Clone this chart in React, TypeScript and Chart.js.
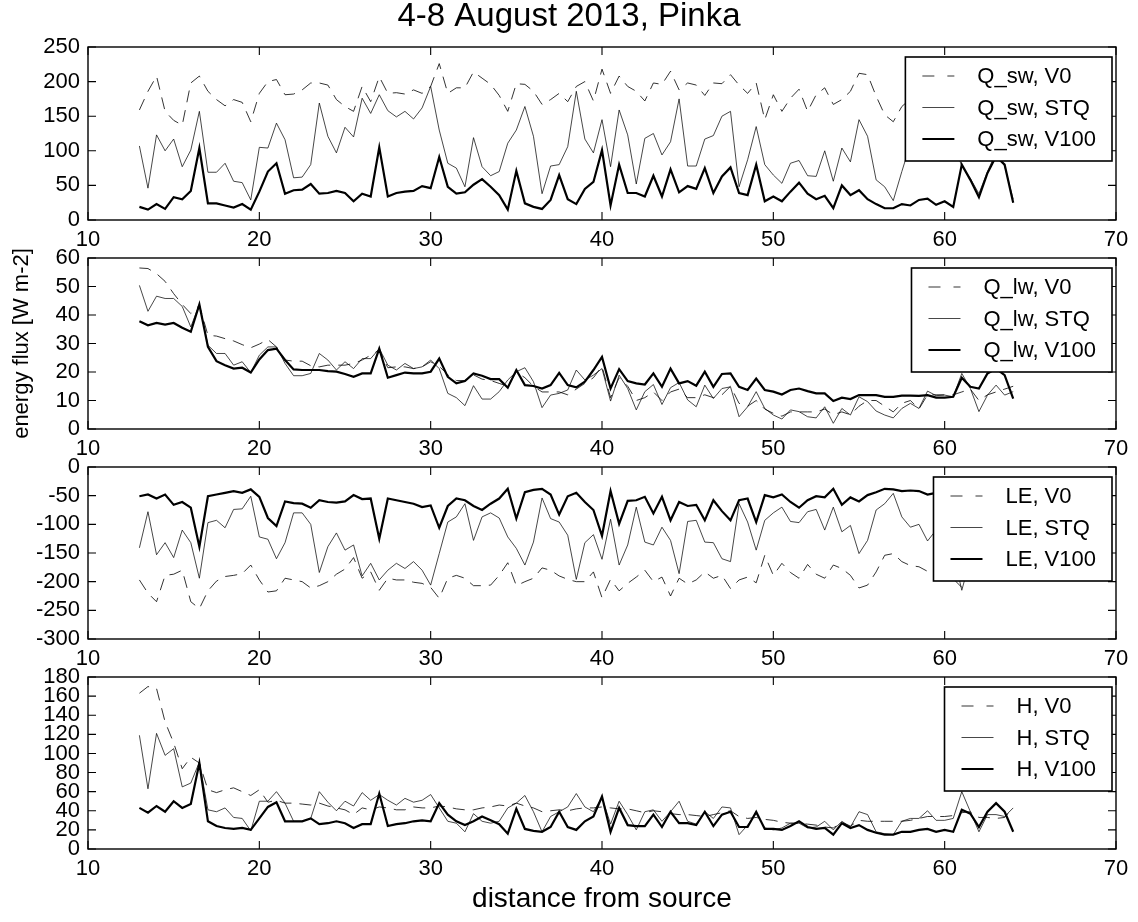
import React, { useEffect, useRef } from "react";
import { Chart, registerables } from "chart.js";

Chart.register(...registerables);

// ---------------- data ----------------
const distance = [
  13, 13.5, 14, 14.5, 15, 15.5, 16, 16.5, 17, 17.5, 18, 18.5, 19, 19.5, 20, 20.5, 21, 21.5, 22, 22.5,
  23, 23.5, 24, 24.5, 25, 25.5, 26, 26.5, 27, 27.5, 28, 28.5, 29, 29.5, 30,
  30.5, 31, 31.5, 32, 32.5, 33, 33.5, 34, 34.5, 35, 35.5, 36, 36.5, 37, 37.5, 38, 38.5, 39, 39.5, 40,
  40.5, 41, 41.5, 42, 42.5, 43, 43.5, 44, 44.5, 45, 45.5, 46, 46.5, 47,
  47.5, 48, 48.5, 49, 49.5, 50, 50.5, 51, 51.5, 52, 52.5, 53, 53.5, 54, 54.5, 55, 55.5, 56, 56.5, 57,
  57.5, 58, 58.5, 59, 59.5, 60, 60.5, 61, 61.5, 62, 62.5, 63, 63.5, 64,
];

const qswV0 = [
  159, 186, 208, 157, 144, 137, 198, 208, 186, 174, 165, 174, 170, 142, 183, 200, 203, 181, 182, 188,
  198, 198, 195, 174, 164, 157, 193, 171, 207, 183, 184, 182, 188, 183, 193,
  226, 183, 191, 191, 214, 205, 196, 180, 157, 197, 196, 186, 167, 174, 183, 171, 193, 200, 172, 218,
  183, 208, 193, 186, 172, 198, 196, 215, 188, 198, 195, 180, 198, 197,
  210, 195, 183, 198, 145, 181, 157, 176, 189, 157, 181, 191, 167, 174, 186, 212, 210, 179, 152, 142,
  164, 175, 185, 170, 190, 180, 175, 185, 170, 160, 175, 170, 180, 165,
];
const qswSTQ = [
  107, 46, 123, 100, 117, 77, 101, 157, 69, 69, 82, 56, 54, 29, 105, 104, 140, 116, 61, 62,
  80, 169, 121, 97, 134, 120, 176, 154, 181, 158, 149, 157, 146, 162, 193,
  130, 82, 75, 48, 119, 77, 64, 70, 111, 130, 164, 121, 38, 78, 80, 106, 186, 117, 97, 145,
  77, 159, 123, 52, 118, 125, 94, 113, 175, 78, 78, 117, 122, 150,
  157, 48, 87, 135, 80, 65, 53, 82, 86, 64, 63, 100, 56, 104, 84, 145, 121, 58, 48, 28,
  70, 110, 130, 120, 140, 130, 110, 78, 60, 38, 70, 98, 78, 30,
];
const qswV100 = [
  19, 15, 23, 16, 33, 30, 42, 104, 24, 24, 21, 18, 23, 15, 41, 70, 82, 38, 43, 44,
  52, 38, 39, 42, 39, 27, 38, 34, 105, 34, 39, 41, 42, 49, 46,
  91, 48, 38, 40, 51, 59, 48, 36, 15, 71, 24, 19, 16, 29, 65, 30, 23, 45, 55, 101,
  21, 80, 39, 39, 34, 64, 34, 73, 40, 49, 45, 75, 39, 63,
  76, 39, 36, 80, 27, 34, 27, 41, 54, 38, 30, 35, 17, 50, 36, 43, 30, 23, 17, 17,
  23, 21, 29, 31, 22, 27, 19, 80, 58, 33, 68, 92, 80, 25,
];

const qlwV0 = [
  56.5, 56.3, 54.5, 51.8, 47.5, 43.7, 40.5, 43.4, 32.9, 32.6, 31.7, 30.9, 29.6, 28.5, 29.8, 31.4, 28.8, 24.2, 23.8, 23.8,
  22.2, 21.8, 22.4, 22.4, 22.4, 23, 24.2, 25.9, 27.7, 21.5, 21.8, 21.8, 21.2, 21.8, 23.6,
  22, 19, 17, 17, 19, 17.5, 17, 16, 15, 20, 18, 15, 13, 13, 13, 12, 14, 16, 18, 22,
  11, 18, 15, 10, 11, 13, 10, 13, 14, 11, 11, 12, 11, 12,
  15, 9, 8, 10, 7, 5.5, 4.5, 6, 6, 6, 6, 7, 5, 6, 5, 8, 10, 10, 8, 6,
  9, 10, 7, 12, 12, 12, 12, 13, 14, 10, 12, 13, 14, 15,
];
const qlwSTQ = [
  50.4, 41.3, 46.6, 45.8, 45.8, 43, 35.8, 43.7, 29.4, 26.5, 26.5, 22.4, 23.6, 19.8, 25.9, 28.8, 28.8, 23, 18.7, 18.7,
  19.5, 26.5, 24.2, 20.7, 23.6, 21.2, 24.7, 24.7, 28.2, 22.4, 20.7, 23, 21.2, 21.8, 24.2,
  21.2, 12.5, 11, 8.2, 15.2, 10.5, 10.5, 13.1, 17.2, 20.1, 21.5, 16.6, 7.5, 11.9, 12.5, 13.7, 20.7, 17.2, 18.9, 21.2,
  9.8, 18.9, 14.2, 6.7, 13.1, 15.6, 8.6, 14.5, 16.3, 10.2, 7.8, 15.4, 10.7, 14.2,
  14.8, 4.3, 7.8, 13.1, 7.2, 4.9, 3.5, 6.7, 6.1, 4.3, 3.9, 7.8, 2, 7.2, 4.9, 11.3, 9.6, 6.3, 4.9, 3.9,
  7.2, 9, 7.2, 13.3, 11.7, 11.9, 11.3, 19.5, 14.2, 6.1, 11.9, 15.4, 11.9, 13.1,
];
const qlwV100 = [
  37.8, 36.4, 37.2, 36.6, 37.2, 35.5, 34.1, 43.7, 28.8, 23.8, 22.4, 21.2, 21.5, 19.8, 24.4, 27.7, 28.2, 24.2, 20.9, 20.7,
  20.7, 20.7, 20.3, 20.1, 19.3, 18.3, 19.5, 19.5, 28.2, 18, 18.9, 19.8, 19.5, 19.5, 20.1,
  24.7, 18.3, 16, 16.8, 19.5, 18.7, 17.5, 17.5, 14.5, 20.7, 15.4, 15.1, 14.2, 15.4, 19.7, 15.4, 14.6, 16.6, 20.7, 25.3,
  14.2, 21, 16.8, 16, 15.6, 19.5, 14.8, 21.2, 16, 16.8, 15.2, 20.1, 14.8, 19.3,
  19.5, 14.8, 13.7, 17.7, 13.7, 13.1, 12.1, 13.7, 14.2, 13.3, 12.5, 12.5, 9.8, 11, 10.5, 11.9, 11.9, 11.9, 11.3, 11.3,
  11.7, 11.7, 11.6, 11.9, 11, 11, 11.3, 18, 14.8, 14.2, 19.5, 21.2, 18.9, 10.7,
];

const leV0 = [
  -197, -220, -235, -189, -187, -180, -235, -247, -216, -199, -191, -189, -186, -171, -197, -218, -216, -194, -197, -200,
  -211, -207, -200, -187, -178, -158, -194, -183, -215, -194, -197, -197, -201, -203, -210,
  -229, -194, -189, -194, -207, -207, -206, -189, -167, -207, -200, -194, -176, -180, -190, -196, -200, -200, -183, -228,
  -196, -216, -203, -192, -180, -200, -192, -225, -194, -204, -197, -183, -194, -189,
  -212, -197, -192, -202, -154, -189, -168, -184, -194, -170, -187, -194, -171, -177, -189, -211, -206, -183, -154, -151,
  -165, -172, -174, -182, -185, -190, -195, -210, -190, -185, -180, -175, -185, -180,
];
const leSTQ = [
  -141, -78, -153, -132, -158, -110, -132, -194, -97, -93, -106, -74, -73, -51, -122, -126, -160, -132, -80, -80,
  -100, -184, -139, -115, -145, -136, -190, -168, -197, -180, -168, -177, -165, -180, -206,
  -151, -96, -87, -64, -128, -87, -80, -89, -122, -142, -171, -131, -54, -90, -96, -119, -196, -132, -118, -161,
  -91, -171, -136, -70, -131, -136, -105, -128, -186, -95, -93, -131, -132, -160,
  -165, -64, -96, -145, -93, -80, -70, -95, -97, -78, -74, -110, -70, -113, -102, -151, -128, -75, -64, -46,
  -87, -105, -100, -129, -110, -125, -150, -215, -160, -130, -110, -100, -120, -135,
];
const leV100 = [
  -51, -48, -55, -48, -66, -61, -71, -139, -51, -48, -45, -42, -45, -39, -52, -89, -103, -60, -63, -64,
  -71, -58, -61, -62, -60, -49, -56, -55, -125, -55, -58, -61, -64, -70, -67,
  -106, -68, -55, -58, -68, -75, -64, -55, -38, -90, -44, -40, -38, -48, -83, -51, -45, -61, -75, -120,
  -42, -99, -59, -58, -52, -81, -52, -93, -61, -68, -66, -93, -58, -77,
  -93, -58, -55, -96, -49, -53, -48, -61, -71, -58, -51, -53, -38, -66, -53, -60, -49, -44, -38, -39,
  -42, -41, -42, -48, -45, -42, -44, -50, -45, -48, -55, -45, -50, -52,
];

const hV0 = [
  163, 170, 168, 133, 111, 84, 96, 90, 62, 59, 62, 64, 60, 56, 62, 49, 51, 48, 48, 47,
  46, 48, 45, 43, 41, 36, 43, 41, 44, 43, 41, 41, 44, 43, 43,
  45, 44, 42, 41, 41, 43, 44, 46, 45, 48, 45, 43, 39, 40, 41, 40, 42, 43, 43, 44,
  43, 42, 42, 40, 38, 40, 39, 37, 36, 36, 35, 34, 36, 38,
  40, 34, 32, 33, 31, 30, 28, 27, 27, 26, 25, 23, 22, 28, 24, 30, 29, 29, 29, 29,
  29, 30, 32, 34, 34, 34, 35, 38, 39, 33, 33, 32, 33, 43,
];
const hSTQ = [
  119, 63, 121, 98, 105, 65, 69, 91, 41, 39, 43, 33, 32, 19, 50, 50, 60, 48, 29, 29,
  32, 60, 49, 40, 50, 45, 59, 51, 57, 51, 46, 53, 49, 51, 57,
  43, 29, 27, 18, 37, 29, 27, 29, 43, 48, 56, 39, 18, 34, 39, 44, 58, 44, 39, 54,
  26, 50, 36, 20, 39, 41, 29, 39, 50, 29, 26, 39, 32, 44,
  43, 15, 25, 37, 22, 20, 22, 27, 27, 22, 23, 29, 20, 29, 23, 39, 36, 18, 16, 15,
  29, 32, 32, 40, 30, 30, 32, 60, 39, 18, 36, 36, 34, 43,
];
const hV100 = [
  43, 38, 45, 39, 50, 43, 47, 90, 29, 24, 22, 21, 22, 20, 32, 44, 49, 29, 29, 29,
  32, 26, 27, 29, 27, 22, 26, 26, 58, 24, 26, 27, 29, 30, 29,
  48, 36, 29, 25, 29, 34, 30, 26, 16, 42, 21, 19, 18, 23, 39, 23, 20, 29, 34, 55,
  18, 43, 25, 24, 24, 36, 23, 39, 27, 27, 25, 39, 24, 36,
  39, 23, 23, 39, 21, 21, 20, 24, 29, 23, 21, 22, 15, 27, 22, 25, 20, 17, 15, 15,
  18, 18, 20, 21, 18, 20, 18, 41, 37, 23, 39, 48, 39, 18,
];

const titleText = "4-8 August 2013, Pinka";
const yAxisTitle = "energy flux [W m-2]";
const xAxisTitle = "distance from source";
const runNames = ["V0", "STQ", "V100"];

// ---------------- styling ----------------
const FONT = "'Liberation Sans', Arial, Helvetica, sans-serif";
const STYLES = [
  { color: "rgba(0,0,0,0.8)", width: 1, dash: [12, 8], legendDash: [12, 13] },
  { color: "rgba(0,0,0,0.72)", width: 1, dash: [] as number[], legendDash: [] as number[] },
  { color: "#000000", width: 2.2, dash: [] as number[], legendDash: [] as number[] },
];

type PanelProps = {
  top: number;
  height: number;
  padTop: number;
  xHeight: number;
  ymin: number;
  ymax: number;
  ystep: number;
  prefix: string;
  series: number[][];
  showTitle?: boolean;
  yTitle?: string;
  xTitle?: string;
};

function Panel(p: PanelProps) {
  const ref = useRef<HTMLCanvasElement | null>(null);

  useEffect(() => {
    if (!ref.current) return;
    const labels = runNames.map((r) => `${p.prefix}, ${r}`);

    const framePlugin = {
      id: "frameTicksLegend",
      afterDraw(chart: any) {
        const { ctx, chartArea } = chart;
        const { left, right, top, bottom } = chartArea;
        const xs = chart.scales.x;
        const ys = chart.scales.y;
        ctx.save();
        // frame
        ctx.strokeStyle = "#000";
        ctx.lineWidth = 1.4;
        ctx.setLineDash([]);
        ctx.strokeRect(left, top, right - left, bottom - top);
        // inward ticks
        const tl = 8;
        ctx.lineWidth = 1.1;
        ctx.beginPath();
        xs.ticks.forEach((t: any) => {
          const px = xs.getPixelForValue(t.value);
          ctx.moveTo(px, top);
          ctx.lineTo(px, top + tl);
          ctx.moveTo(px, bottom);
          ctx.lineTo(px, bottom - tl);
        });
        ys.ticks.forEach((t: any) => {
          const py = ys.getPixelForValue(t.value);
          ctx.moveTo(left, py);
          ctx.lineTo(left + tl, py);
          ctx.moveTo(right, py);
          ctx.lineTo(right - tl, py);
        });
        ctx.stroke();

        // legend
        ctx.font = `22px ${FONT}`;
        const tw = Math.max(...labels.map((l) => ctx.measureText(l).width));
        const bw = 72 + tw + 16;
        const bh = 104;
        const bx = right - 4 - bw;
        const by = top + 10;
        ctx.fillStyle = "#fff";
        ctx.fillRect(bx, by, bw, bh);
        ctx.strokeStyle = "#000";
        ctx.lineWidth = 1.6;
        ctx.strokeRect(bx, by, bw, bh);
        labels.forEach((l, i) => {
          const ry = by + 19 + i * 31.5;
          const st = STYLES[i];
          ctx.strokeStyle = st.color;
          ctx.lineWidth = st.width;
          ctx.setLineDash(st.legendDash);
          ctx.beginPath();
          ctx.moveTo(bx + 17, ry);
          ctx.lineTo(bx + 49, ry);
          ctx.stroke();
          ctx.setLineDash([]);
          ctx.fillStyle = "#000";
          ctx.textAlign = "left";
          ctx.textBaseline = "middle";
          ctx.fillText(l, bx + 72, ry + 1);
        });

        if (p.showTitle) {
          ctx.font = `33px ${FONT}`;
          ctx.fillStyle = "#000";
          ctx.textAlign = "center";
          ctx.textBaseline = "middle";
          ctx.fillText(titleText, 569, 17);
        }
        ctx.restore();
      },
    };

    const tickFont = { family: FONT, size: 22 };

    const chart = new Chart(ref.current, {
      type: "line",
      data: {
        datasets: p.series.map((vals, i) => ({
          label: labels[i],
          data: distance.map((x, j) => ({ x, y: vals[j] })),
          borderColor: STYLES[i].color,
          borderWidth: STYLES[i].width,
          borderDash: STYLES[i].dash,
          pointRadius: 0,
          pointHoverRadius: 0,
          tension: 0,
          fill: false,
          order: 3 - i,
        })),
      },
      options: {
        responsive: false,
        animation: false,
        devicePixelRatio: 1,
        events: [],
        layout: { padding: { top: p.padTop, right: 22, left: 0, bottom: 0 } },
        plugins: {
          legend: { display: false },
          tooltip: { enabled: false },
          title: { display: false },
        },
        scales: {
          x: {
            type: "linear",
            min: 10,
            max: 70,
            ticks: {
              stepSize: 10,
              padding: 7,
              font: tickFont,
              color: "#000",
              maxRotation: 0,
              autoSkip: false,
            },
            grid: { display: false, drawTicks: false },
            border: { display: false },
            title: {
              display: !!p.xTitle,
              text: p.xTitle || "",
              font: { family: FONT, size: 28 },
              color: "#000",
              padding: { top: 0, bottom: 6 },
            },
            afterFit: (s: any) => {
              s.height = p.xHeight;
            },
          },
          y: {
            type: "linear",
            min: p.ymin,
            max: p.ymax,
            ticks: {
              stepSize: p.ystep,
              padding: 8,
              font: tickFont,
              color: "#000",
              autoSkip: false,
            },
            grid: { display: false, drawTicks: false },
            border: { display: false },
            title: {
              display: !!p.yTitle,
              text: p.yTitle || "",
              font: { family: FONT, size: 22 },
              color: "#000",
              padding: { top: 9, bottom: 0 },
            },
            afterFit: (s: any) => {
              s.width = 88;
            },
          },
        },
      } as any,
      plugins: [framePlugin],
    });
    return () => chart.destroy();
  }, []);

  return (
    <canvas
      ref={ref}
      width={1138}
      height={p.height}
      style={{ position: "absolute", left: 0, top: p.top, width: 1138, height: p.height }}
    />
  );
}

export default function App() {
  return (
    <div
      style={{
        position: "absolute",
        left: 0,
        top: 0,
        width: 1138,
        height: 922,
        background: "#fff",
        overflow: "hidden",
      }}
    >
      <Panel top={0} height={260} padTop={47} xHeight={40} ymin={0} ymax={250} ystep={50}
        prefix="Q_sw" series={[qswV0, qswSTQ, qswV100]} showTitle />
      <Panel top={236} height={233} padTop={22} xHeight={40} ymin={0} ymax={60} ystep={10}
        prefix="Q_lw" series={[qlwV0, qlwSTQ, qlwV100]} yTitle={yAxisTitle} />
      <Panel top={445} height={234} padTop={22} xHeight={40} ymin={-300} ymax={0} ystep={50}
        prefix="LE" series={[leV0, leSTQ, leV100]} />
      <Panel top={655} height={267} padTop={22} xHeight={73} ymin={0} ymax={180} ystep={20}
        prefix="H" series={[hV0, hSTQ, hV100]} xTitle={xAxisTitle} />
    </div>
  );
}
